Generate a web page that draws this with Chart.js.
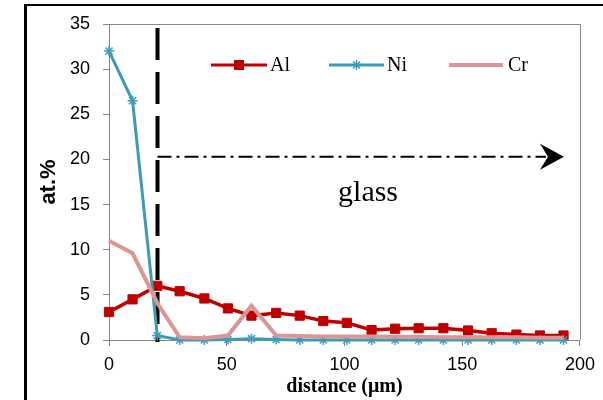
<!DOCTYPE html>
<html>
<head>
<meta charset="utf-8">
<script src="https://cdn.jsdelivr.net/npm/chart.js@4.4.1/dist/chart.umd.min.js"></script>
<style>
  html, body { margin: 0; padding: 0; background: #fff; }
  #wrap { width: 603px; height: 400px; position: relative; }
</style>
</head>
<body>
<div id="wrap"><canvas id="c" width="603" height="400"></canvas></div>
<script>
// ---- data ----
const distance = [0, 10, 20.5, 30, 40.5, 50.5, 60.5, 71, 81, 91, 101, 111.5, 121.5, 131.5, 142, 152.5, 162.5, 173, 183, 193];
const alValues = [3.1, 4.5, 6.0, 5.4, 4.6, 3.5, 2.7, 3.0, 2.7, 2.1, 1.9, 1.1, 1.25, 1.3, 1.3, 1.05, 0.75, 0.6, 0.5, 0.5];
const niValues = [32.0, 26.5, 0.5, 0.0, 0.0, 0.05, 0.15, 0.05, 0.0, 0.0, 0.0, 0.0, 0.0, 0.0, 0.0, 0.0, 0.0, 0.0, 0.0, 0.0];
const crValues = [11.0, 9.6, 4.1, 0.3, 0.2, 0.5, 3.8, 0.5, 0.45, 0.4, 0.4, 0.4, 0.35, 0.35, 0.3, 0.3, 0.3, 0.3, 0.25, 0.25];
const seriesNames = ['Al', 'Ni', 'Cr'];
const xTitle = 'distance (μm)';
const yTitle = 'at.%';
const regionLabel = 'glass';
const boundaryX = 20.6;   // interface position (µm)
const arrowY = 20.3;      // arrow level (at.%)

const AL = '#C00000', NI = '#3E9BB6', CR = '#D99694';
const GRAY = '#868686';

function pts(ys) { return distance.map((x, i) => ({ x: x, y: ys[i] })); }

const decor = {
  id: 'decor',
  beforeDraw(chart) {
    const ctx = chart.ctx;
    ctx.save();
    ctx.fillStyle = '#fff';
    ctx.fillRect(0, 0, chart.width, chart.height);
    ctx.strokeStyle = '#000';
    ctx.lineWidth = 3;
    ctx.beginPath();
    ctx.moveTo(25.5, 5); ctx.lineTo(25.5, 400);
    ctx.stroke();
    ctx.lineWidth = 2;
    ctx.beginPath();
    ctx.moveTo(24, 5); ctx.lineTo(603, 5);
    ctx.stroke();
    ctx.restore();
  },
  beforeDatasetsDraw(chart) {
    const ctx = chart.ctx, a = chart.chartArea;
    const xs = chart.scales.x, ys = chart.scales.y;
    ctx.save();
    // plot border top/right
    ctx.strokeStyle = GRAY; ctx.lineWidth = 1;
    ctx.beginPath();
    ctx.moveTo(a.left, a.top + 0.5); ctx.lineTo(a.right + 0.5, a.top + 0.5); ctx.lineTo(a.right + 0.5, a.bottom);
    ctx.stroke();
    // vertical dashed boundary
    const bx = xs.getPixelForValue(boundaryX);
    ctx.strokeStyle = '#000'; ctx.lineWidth = 4;
    ctx.setLineDash([32, 12]);
    ctx.beginPath();
    ctx.moveTo(bx, a.top + 4); ctx.lineTo(bx, a.bottom + 2);
    ctx.stroke();
    // dash-dot arrow
    const ay = ys.getPixelForValue(arrowY);
    const tip = a.right - 16;
    ctx.lineWidth = 2;
    ctx.setLineDash([14, 5, 3, 5]);
    ctx.beginPath();
    ctx.moveTo(bx, ay); ctx.lineTo(tip - 18, ay);
    ctx.stroke();
    ctx.setLineDash([]);
    ctx.fillStyle = '#000';
    ctx.beginPath();
    ctx.moveTo(tip, ay);
    ctx.lineTo(tip - 24, ay - 13);
    ctx.lineTo(tip - 16, ay);
    ctx.lineTo(tip - 24, ay + 13);
    ctx.closePath();
    ctx.fill();
    // region label
    ctx.font = '30px "Liberation Serif", "Times New Roman", serif';
    ctx.textAlign = 'center'; ctx.textBaseline = 'alphabetic';
    ctx.fillText(regionLabel, xs.getPixelForValue(110), ys.getPixelForValue(15.4));
    ctx.restore();
  },
  afterDraw(chart) {
    const ctx = chart.ctx;
    ctx.save();
    const ly = 65;
    const items = [
      { x0: 211, x1: 267, tx: 270, color: AL, lw: 3, mark: 'rect' },
      { x0: 329, x1: 384, tx: 387, color: NI, lw: 3, mark: 'star' },
      { x0: 449, x1: 503, tx: 508, color: CR, lw: 4, mark: null }
    ];
    items.forEach((it, i) => {
      ctx.strokeStyle = it.color; ctx.lineWidth = it.lw;
      ctx.beginPath(); ctx.moveTo(it.x0, ly); ctx.lineTo(it.x1, ly); ctx.stroke();
      const mx = (it.x0 + it.x1) / 2;
      if (it.mark === 'rect') {
        ctx.fillStyle = it.color; ctx.fillRect(mx - 5, ly - 5, 10, 10);
      } else if (it.mark === 'star') {
        ctx.lineWidth = 1.5;
        ctx.beginPath();
        for (let k = 0; k < 4; k++) {
          const ang = k * Math.PI / 4;
          ctx.moveTo(mx - 5 * Math.cos(ang), ly - 5 * Math.sin(ang));
          ctx.lineTo(mx + 5 * Math.cos(ang), ly + 5 * Math.sin(ang));
        }
        ctx.stroke();
      }
      ctx.fillStyle = '#000';
      ctx.font = '20px "Liberation Serif", "Times New Roman", serif';
      ctx.textAlign = 'left'; ctx.textBaseline = 'middle';
      ctx.fillText(seriesNames[i], it.tx, ly + 1);
    });
    ctx.restore();
  }
};

new Chart(document.getElementById('c'), {
  type: 'line',
  data: {
    datasets: [
      { label: seriesNames[0], data: pts(alValues), borderColor: AL, backgroundColor: AL,
        borderWidth: 3.5, pointStyle: 'rect', pointRadius: 6.5, pointBorderWidth: 1, order: 2, clip: false },
      { label: seriesNames[1], data: pts(niValues), borderColor: NI, backgroundColor: NI,
        borderWidth: 3, pointStyle: 'star', pointRadius: 5, pointBorderWidth: 1.5, order: 1, clip: false },
      { label: seriesNames[2], data: pts(crValues), borderColor: CR, backgroundColor: CR,
        borderWidth: 4, pointRadius: 0, order: 0, clip: false }
    ]
  },
  options: {
    responsive: false,
    animation: false,
    layout: { padding: { left: 0, right: 23, top: 24, bottom: 0 } },
    plugins: { legend: { display: false }, tooltip: { enabled: false } },
    elements: { line: { tension: 0 } },
    scales: {
      x: {
        type: 'linear', min: 0, max: 200,
        ticks: { stepSize: 50, color: '#000', padding: 8,
          font: { family: '"Liberation Sans", Arial, sans-serif', size: 18 } },
        grid: { drawOnChartArea: false, drawTicks: true, tickLength: 6, color: GRAY, tickColor: GRAY },
        border: { color: GRAY, width: 1 },
        title: { display: true, text: xTitle, color: '#000', padding: { top: 0, bottom: 1 },
          font: { family: '"Liberation Serif", "Times New Roman", serif', size: 20, weight: 'bold' } },
        afterFit(s) { s.height = 60; }
      },
      y: {
        type: 'linear', min: 0, max: 35,
        ticks: { stepSize: 5, color: '#000', padding: 13,
          font: { family: '"Liberation Sans", Arial, sans-serif', size: 18 } },
        grid: { drawOnChartArea: false, drawTicks: true, tickLength: 6, color: GRAY, tickColor: GRAY },
        border: { color: GRAY, width: 1 },
        title: { display: true, text: yTitle, color: '#000', padding: { top: 36, bottom: 0 },
          font: { family: '"Liberation Sans", Arial, sans-serif', size: 22, weight: 'bold' } },
        afterFit(s) { s.width = 109; }
      }
    }
  },
  plugins: [decor]
});
</script>
</body>
</html>
